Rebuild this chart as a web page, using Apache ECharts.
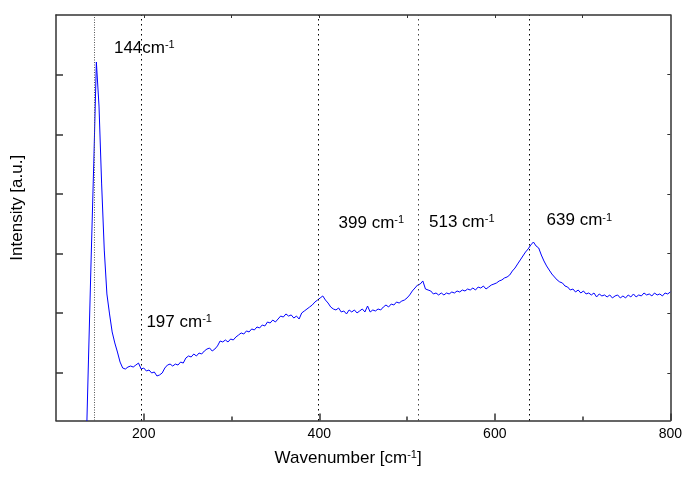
<!DOCTYPE html>
<html>
<head>
<meta charset="utf-8">
<script src="https://cdn.jsdelivr.net/npm/echarts@6/dist/echarts.min.js"></script>
<style>
  html, body { margin: 0; padding: 0; background: #fff; }
  #chart { width: 685px; height: 479px; }
</style>
</head>
<body>
<div id="chart"></div>
<script>
// Raman spectrum: wavenumber (cm^-1) and intensity (counts)
const wavenumber = [
  134,137,140,143,146,149,152,155,158,161,164,167,170,173,176,179,182,185,188,191,
  194,197,200,203,206,209,212,215,218,221,224,227,230,233,236,239,242,245,248,251,
  254,257,260,263,266,269,272,275,278,281,284,287,290,293,296,299,302,305,308,311,
  314,317,320,323,326,329,332,335,338,341,344,347,350,353,356,359,362,365,368,371,
  374,377,380,383,386,389,392,395,398,401,404,407,410,413,416,419,422,425,428,431,
  434,437,440,443,446,449,452,455,458,461,464,467,470,473,476,479,482,485,488,491,
  494,497,500,503,506,509,512,515,518,521,524,527,530,533,536,539,542,545,548,551,
  554,557,560,563,566,569,572,575,578,581,584,587,590,593,596,599,602,605,608,611,
  614,617,620,623,626,629,632,635,638,641,644,647,650,653,656,659,662,665,668,671,
  674,677,680,683,686,689,692,695,698,701,704,707,710,713,716,719,722,725,728,731,
  734,737,740,743,746,749,752,755,758,761,764,767,770,773,776,779,782,785,788,791,
  794,797,800
];
const intensity = [
  -308,729,1735,2701,3727,3284,2500,1835,1393,1192,1011,900,809,708,648,638,658,668,658,678,
  698,638,648,618,628,598,608,568,578,598,648,678,688,668,688,678,708,698,749,769,
  759,789,769,799,789,819,839,849,819,839,870,920,910,930,910,940,930,960,980,1001,
  990,1021,1011,1041,1031,1061,1051,1081,1071,1111,1101,1131,1111,1141,1171,1161,1192,1171,1182,1151,
  1171,1141,1202,1222,1242,1262,1282,1312,1332,1353,1373,1332,1302,1262,1242,1232,1252,1212,1222,1192,
  1232,1212,1232,1202,1222,1242,1212,1272,1212,1232,1222,1242,1232,1262,1282,1262,1292,1282,1312,1302,
  1322,1332,1353,1383,1423,1453,1483,1493,1524,1443,1433,1423,1393,1403,1383,1403,1383,1403,1393,1413,
  1403,1423,1413,1433,1423,1443,1433,1453,1433,1463,1453,1473,1443,1463,1483,1493,1504,1524,1534,1554,
  1564,1584,1624,1654,1695,1735,1775,1815,1846,1886,1916,1876,1856,1785,1725,1675,1634,1594,1564,1534,
  1514,1504,1473,1463,1433,1443,1413,1433,1403,1423,1393,1403,1383,1403,1363,1393,1373,1383,1363,1383,
  1353,1373,1383,1353,1373,1353,1383,1363,1393,1363,1383,1373,1403,1383,1393,1373,1403,1383,1393,1373,
  1403,1393,1413
];

// Assigned Raman bands (dotted markers) and their annotations
const peakPositions = [144, 197, 399, 513, 639];
const peakLabels = ['144cm', '197 cm', '399 cm', '513 cm', '639 cm'];
const labelWavenumber = [166, 203, 422, 525, 659];
const labelIntensity = [3868, 1111, 2107, 2117, 2132];

// Axis ticks
const xLabelTicks = [200, 400, 600, 800];
const xMinorTicks = [300, 500, 700];
const xTopTicks = [200, 300, 400, 500, 600, 700];
const yTicks = [600, 1200, 1800, 2400, 3000, 3600];

const FONT = 'Liberation Sans, Arial, sans-serif';
const frameLine = { show: true, onZero: false, lineStyle: { color: '#333', width: 1.5 } };

const chart = echarts.init(document.getElementById('chart'), null, { renderer: 'canvas' });

const supRich = {
  n: { fontSize: 17, fontFamily: FONT, color: '#000' },
  s: { fontSize: 11, fontFamily: FONT, color: '#000', verticalAlign: 'top' }
};

chart.setOption({
  animation: false,
  backgroundColor: '#fff',
  grid: { left: 56, right: 13, top: 15, bottom: 58.5, containLabel: false },
  xAxis: [
    {
      type: 'value', min: 100, max: 800, position: 'bottom',
      axisLine: frameLine,
      axisTick: { show: true, inside: true, length: 7, customValues: xLabelTicks, lineStyle: { color: '#333', width: 1.5 } },
      axisLabel: { show: true, customValues: xLabelTicks, fontSize: 14, fontFamily: FONT, color: '#000', margin: 7 },
      splitLine: { show: false },
      name: '{n|Wavenumber [cm}{s|-1}{n|]}',
      nameLocation: 'middle', nameGap: 29,
      nameTextStyle: { rich: supRich, padding: [0, 30, 0, 0] }
    },
    {
      type: 'value', min: 100, max: 800, position: 'top',
      axisLine: frameLine,
      axisTick: { show: true, inside: true, length: 3, customValues: xTopTicks, lineStyle: { color: '#333', width: 1 } },
      axisLabel: { show: false },
      splitLine: { show: false }
    },
    {
      type: 'value', min: 100, max: 800, position: 'bottom',
      axisLine: { show: false },
      axisTick: { show: true, inside: true, length: 4, customValues: xMinorTicks, lineStyle: { color: '#333', width: 1.5 } },
      axisLabel: { show: false },
      splitLine: { show: false }
    }
  ],
  yAxis: [
    {
      type: 'value', min: 120, max: 4200, position: 'left',
      axisLine: frameLine,
      axisTick: { show: true, inside: true, length: 7, customValues: yTicks, lineStyle: { color: '#333', width: 1.5 } },
      axisLabel: { show: false },
      splitLine: { show: false },
      name: 'Intensity [a.u.]',
      nameLocation: 'middle', nameGap: 30,
      nameTextStyle: { fontSize: 17, fontFamily: FONT, color: '#000', padding: [0, 0, 0, 20] }
    },
    {
      type: 'value', min: 120, max: 4200, position: 'right',
      axisLine: frameLine,
      axisTick: { show: true, inside: true, length: 3, customValues: yTicks, lineStyle: { color: '#333', width: 1 } },
      axisLabel: { show: false },
      splitLine: { show: false }
    }
  ],
  series: [
    {
      type: 'line',
      xAxisIndex: 0, yAxisIndex: 0,
      data: wavenumber.map((w, i) => [w, intensity[i]]),
      showSymbol: false,
      symbol: 'none',
      clip: true,
      lineStyle: { color: '#0000ff', width: 1 },
      markLine: {
        silent: true,
        symbol: ['none', 'none'],
        label: { show: false },
        lineStyle: { color: '#000', width: 1, type: [1.5, 3.5] },
        data: peakPositions.map((p, i) => ({
          xAxis: p,
          lineStyle: i === 0 ? { color: '#555', type: [1, 1.5] } : (i === 3 ? { color: '#444' } : {})
        }))
      },
      markPoint: {
        silent: true,
        symbol: 'circle',
        symbolSize: 0,
        label: {
          show: true, position: 'right', distance: 0,
          rich: supRich
        },
        data: peakPositions.map((p, i) => ({
          coord: [labelWavenumber[i], labelIntensity[i]],
          label: { formatter: '{n|' + peakLabels[i] + '}{s|-1}' }
        }))
      }
    }
  ]
});
</script>
</body>
</html>
